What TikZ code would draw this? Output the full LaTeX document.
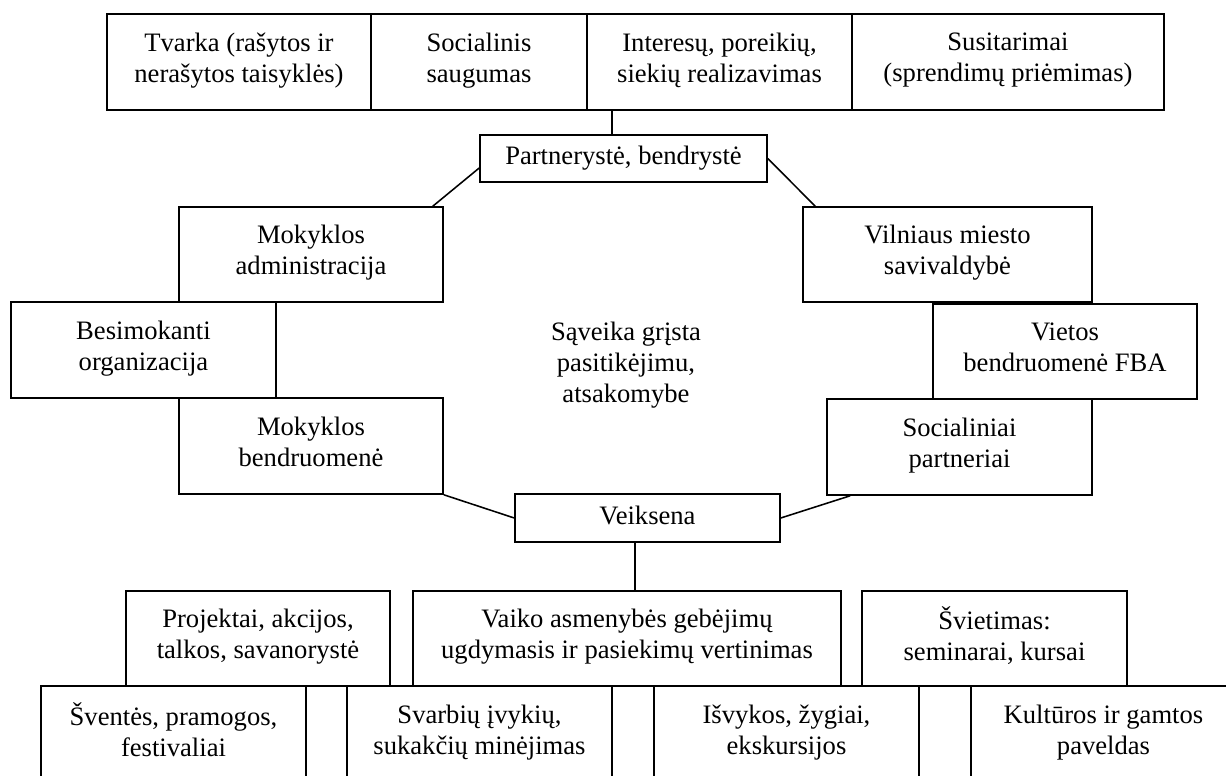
\documentclass[tikz,border=0pt]{standalone}
\usepackage{fontspec}
\setmainfont{Liberation Serif}
\usepackage{tikz}
\usetikzlibrary{calc}
\def\px{0.451pt}
\tikzset{x=\px, y=-\px,
    block/.style={draw=black, line width=0.7pt, inner sep=0pt, align=center,
          font=\fontsize{12pt}{14pt}\selectfont,
          execute at begin node=\strut, execute at end node=\strut},
    middle text/.style={draw=none, align=center,
          font=\fontsize{12pt}{14pt}\selectfont},
    link/.style={draw=black, line width=0.7pt}
    }
\def\Block#1#2#3#4#5#6{%
\node[block, minimum width={(#4-#2)*\px}, minimum height={(#5-#3)*\px}]
  (#1) at ({(#2+#4)/2},{(#3+#5)/2}) {#6};
}

\begin{document}
\begin{tikzpicture}
\clip (0,0) rectangle (1226,776);
% top row
\Block{tvarka}{107}{14}{371}{110}{Tvarka (rašytos ir\\nerašytos taisyklės)}
\Block{saugumas}{371}{14}{587}{110}{Socialinis\\saugumas}
\Block{interesai}{587}{14}{852}{110}{Interesų, poreikių,\\siekių realizavimas}
\Block{susitarimai}{852}{14}{1164}{110}{Susitarimai\\(sprendimų priėmimas)}
\Block{partneryste}{480}{135}{767}{182}{Partnerystė, bendrystė}
% left side
\Block{admin}{179}{207}{443}{302}{Mokyklos\\administracija}
\Block{besimok}{11}{302}{276}{398}{Besimokanti\\organizacija}
\Block{mokbendr}{179}{398}{443}{494}{Mokyklos\\bendruomenė}
% right side
\Block{vilnius}{803}{207}{1092}{302}{Vilniaus miesto\\savivaldybė}
\Block{vietos}{933}{304}{1197}{399}{Vietos\\bendruomenė FBA}
\Block{socialiniai}{827}{399}{1092}{495}{Socialiniai\\partneriai}
\node[middle text] (saveika) at (626,365) {Sąveika grįsta\\pasitikėjimu,\\atsakomybe};
\Block{veiksena}{515}{494}{780}{542}{Veiksena}
% bottom rows
\Block{projektai}{126}{591}{390}{686}{Projektai, akcijos,\\talkos, savanorystė}
\Block{vaiko}{413}{591}{841}{686}{Vaiko asmenybės gebėjimų\\ugdymasis ir pasiekimų vertinimas}
\Block{svietimas}{862}{591}{1127}{686}{Švietimas:\\seminarai, kursai}
\Block{sventes}{41}{686}{306}{782}{Šventės, pramogos,\\festivaliai}
\Block{svarbiu}{347}{686}{612}{782}{Svarbių įvykių,\\sukakčių minėjimas}
\Block{isvykos}{654}{686}{919}{782}{Išvykos, žygiai,\\ekskursijos}
\Block{kulturos}{971}{686}{1236}{782}{Kultūros ir gamtos\\paveldas}
% links
\coordinate (uplink) at ($(partneryste.north)+(-11.5,0)$);
\draw[link] (uplink) -- (uplink |- interesai.south);
\draw[link] ($(partneryste.west)+(0,9.5)$) -- ($(admin.north east)+(-11,0)$);
\draw[link] (partneryste.east) -- ($(vilnius.north west)+(13,0)$);
\draw[link] (mokbendr.south east) -- (veiksena.west);
\draw[link] (veiksena.east) -- ($(socialiniai.south west)+(24,0)$);
\coordinate (downlink) at ($(veiksena.south)+(-12.5,0)$);
\draw[link] (downlink) -- (downlink |- vaiko.north);
\end{tikzpicture}
\end{document}
